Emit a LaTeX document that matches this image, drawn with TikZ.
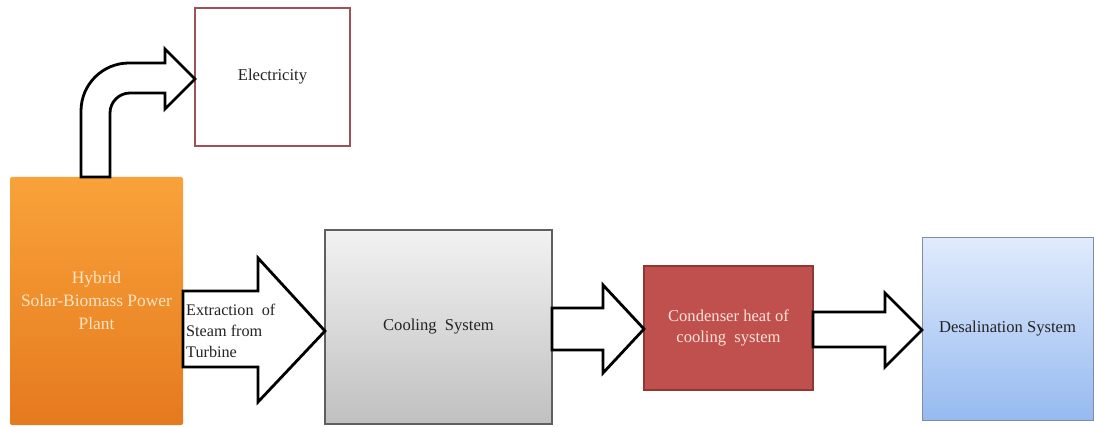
\documentclass[tikz,border=0pt]{standalone}
\usepackage{fontspec}
\setmainfont{Liberation Serif}
\usetikzlibrary{calc}
\definecolor{orangeTop}{RGB}{249,162,58}
\definecolor{orangeBot}{RGB}{229,122,30}
\definecolor{peach}{RGB}{255,228,196}
\definecolor{elecEdge}{RGB}{158,82,88}
\definecolor{greyTop}{RGB}{242,242,242}
\definecolor{greyBot}{RGB}{192,192,192}
\definecolor{greyEdge}{RGB}{95,95,95}
\definecolor{condFill}{RGB}{192,80,77}
\definecolor{condEdge}{RGB}{145,55,55}
\definecolor{condText}{RGB}{255,226,216}
\definecolor{blueTop}{RGB}{224,235,252}
\definecolor{blueBot}{RGB}{150,186,240}
\definecolor{blueEdge}{RGB}{128,140,162}
\definecolor{ink}{RGB}{35,35,35}
\tikzset{
  box/.style={rectangle, inner sep=0pt, outer sep=0pt, anchor=north west,
    font=\fontsize{16.6}{21}\selectfont, text=ink, align=center},
  blockarrow/.style={draw=black, fill=white, line width=2.8pt, line join=miter},
}
\begin{document}
\begin{tikzpicture}[x=1pt, y=-1pt]
\useasboundingbox (0,0) rectangle (1094,427);

% blocks
\node[box, minimum width=173pt, minimum height=248pt,
      top color=orangeTop, bottom color=orangeBot, rounded corners=2pt,
      text=peach, font=\fontsize{17.4}{23}\selectfont]
  (hyb) at (10,177) {Hybrid\\Solar-Biomass Power\\Plant};
\node[box, minimum width=155pt, minimum height=138pt,
      draw=elecEdge, line width=2.6pt, fill=white]
  (elec) at (195,8) {Electricity};
\node[box, minimum width=227pt, minimum height=194pt,
      draw=greyEdge, line width=1.2pt, top color=greyTop, bottom color=greyBot]
  (cool) at (325,230) {Cooling\ \ System};
\node[box, minimum width=169pt, minimum height=124pt,
      draw=condEdge, line width=1.6pt, fill=condFill, text=condText]
  (cond) at (644,266) {Condenser heat of\\cooling\ \ system};
\node[box, minimum width=171pt, minimum height=182pt,
      draw=blueEdge, line width=1pt, top color=blueTop, bottom color=blueBot]
  (desal) at (922,238) {Desalination System};

% bent arrow from the plant up to electricity
\coordinate (bL) at ($(hyb.north west)+(71,0)$);
\coordinate (bR) at ($(hyb.north west)+(100,0)$);
\coordinate (bTip) at ($(elec.west)+(0,2)$);
\draw[blockarrow]
  (bL) -- (81,111) .. controls (81,84.5) and (102.5,63) .. (129,63)
  -- (165,63) -- (165,49) -- (bTip) -- (165,109) -- (165,93) -- (130,93)
  .. controls (119,93) and (110,102) .. (110,113) -- (bR) -- cycle;

% straight arrows between blocks
\draw[blockarrow]
  ($(hyb.east|-0,291)$) -- (258,291) -- (258,258) -- ($(cool.west|-0,331)$)
  -- (258,402) -- (258,367) -- ($(hyb.east|-0,367)$) -- cycle;
\draw[blockarrow]
  ($(cool.east|-0,308)$) -- (603,308) -- (603,285) -- ($(cond.west|-0,329)$)
  -- (603,373) -- (603,350) -- ($(cool.east|-0,350)$) -- cycle;
\draw[blockarrow]
  ($(cond.east|-0,312)$) -- (885,312) -- (885,293) -- ($(desal.west|-0,330)$)
  -- (885,367) -- (885,347) -- ($(cond.east|-0,347)$) -- cycle;

% label inside the extraction arrow
\node[anchor=west, inner sep=0pt, align=left, text=ink,
      font=\fontsize{16.2}{21}\selectfont]
  (steam) at (186,331) {Extraction\ \ of\\Steam from\\Turbine};
\end{tikzpicture}
\end{document}
